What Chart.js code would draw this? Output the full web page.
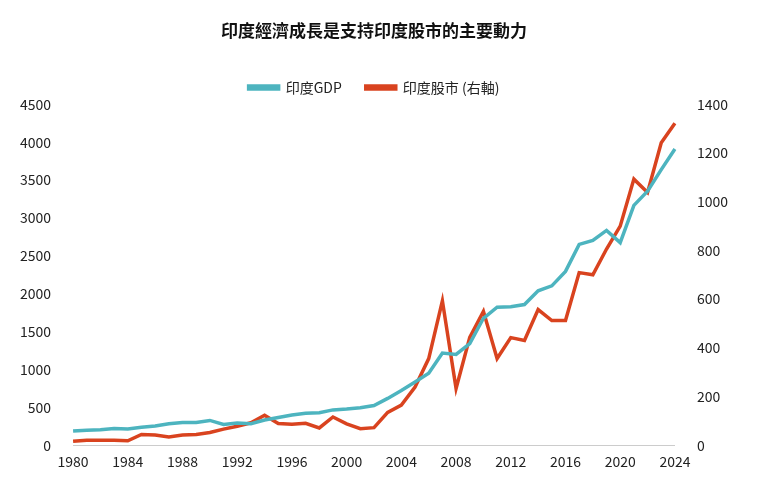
<!DOCTYPE html><html><head><meta charset="utf-8"><script src="https://cdn.jsdelivr.net/npm/chart.js@4"></script>
<style>body{margin:0;background:#fff}#w{width:760px;height:485px}</style></head><body><div id="w"><canvas id="c"></canvas></div><script>
const years=[];for(let y=1980;y<=2024;y++)years.push(String(y));
const gdp=[186,196,204,222,215,236,253,283,301,301,327,275,293,284,333,367,400,423,429,466,477,494,524,618,722,834,949,1217,1199,1342,1676,1823,1828,1857,2039,2104,2295,2651,2703,2836,2675,3167,3353,3638,3910];
const stock=[16,20,20,20,18,44,42,34,42,44,52,66,78,92,123,89,86,90,71,116,88,68,72,135,165,239,356,593,233,443,550,356,442,430,557,512,512,709,700,806,900,1093,1038,1242,1323];
const F='"Noto Sans CJK TC","Noto Sans",sans-serif';
Chart.defaults.font.family=F;Chart.defaults.color='#222';
new Chart(document.getElementById('c'),{type:'line',data:{labels:years,datasets:[
{label:'印度GDP',data:gdp,borderColor:'#4DB4BF',backgroundColor:'#4DB4BF',borderWidth:3.5,pointRadius:0,yAxisID:'y',tension:0},
{label:'印度股市 (右軸)',data:stock,borderColor:'#D9431F',backgroundColor:'#D9431F',borderWidth:3.5,pointRadius:0,yAxisID:'y1',tension:0}]},
options:{responsive:true,maintainAspectRatio:false,animation:false,layout:{padding:{left:6,right:18,top:14,bottom:12}},
plugins:{title:{display:true,text:'印度經濟成長是支持印度股市的主要動力',font:{size:17,weight:'bold'},color:'#111',padding:{top:6,bottom:16}},
legend:{labels:{boxWidth:30,boxHeight:3,font:{size:14},padding:24}},tooltip:{enabled:false}},
scales:{x:{grid:{display:false,drawTicks:true,tickLength:5},border:{color:'#ccc'},ticks:{autoSkip:false,maxRotation:0,font:{size:14},callback:(v,i)=>i%4===0?years[i]:''}},
y:{min:0,max:4500,grid:{display:false},border:{display:false},ticks:{stepSize:500,font:{size:14},padding:14,callback:v=>String(v)}},
y1:{position:'right',min:0,max:1400,grid:{display:false},border:{display:false},ticks:{stepSize:200,font:{size:14},padding:14,callback:v=>String(v)}}}}});
</script></body></html>
